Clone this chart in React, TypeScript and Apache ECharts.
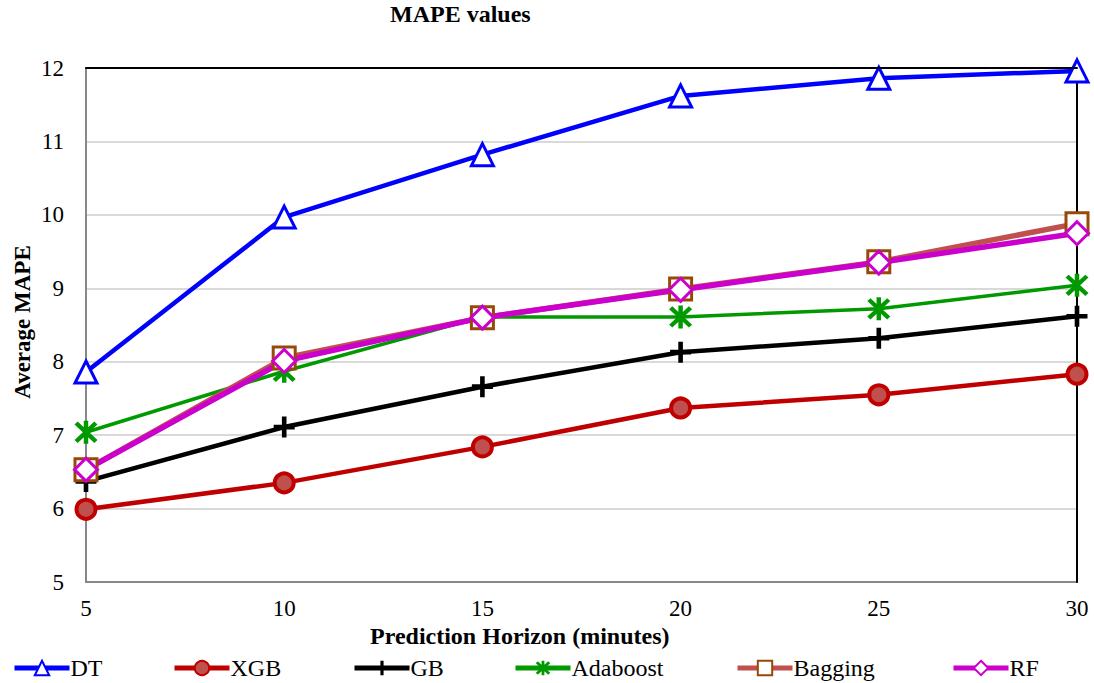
import React, { useEffect, useRef } from "react";
import * as echarts from "echarts";

const horizons = [5, 10, 15, 20, 25, 30];
const dtValues = [7.86, 9.97, 10.82, 11.62, 11.86, 11.96];
const xgbValues = [5.99, 6.35, 6.84, 7.37, 7.55, 7.83];
const gbValues = [6.37, 7.11, 7.66, 8.13, 8.32, 8.62];
const adaboostValues = [7.04, 7.87, 8.61, 8.61, 8.72, 9.04];
const baggingValues = [6.53, 8.05, 8.6, 8.99, 9.36, 9.88];
const rfValues = [6.53, 8.01, 8.6, 8.98, 9.35, 9.75];
const seriesNames = ["DT", "XGB", "GB", "Adaboost", "Bagging", "RF"];
const yTicks = { min: 5, max: 12, interval: 1 };
const xTicks = { min: 5, max: 30, interval: 5 };

const FONT = "'Liberation Serif', 'Times New Roman', serif";
const legendLeft = [12, 172, 352, 513, 735, 951];

const plusPath =
  "path://M3.9,0 H6.1 V3.9 H10 V6.1 H6.1 V10 H3.9 V6.1 H0 V3.9 H3.9 Z";
const starPath =
  "path://M4.1,0 H5.9 V10 H4.1 Z M1.64,0.36 L9.64,8.36 L8.36,9.64 L0.36,1.64 Z M9.64,1.64 L1.64,9.64 L0.36,8.36 L8.36,0.36 Z";

function pts(vals: number[]) {
  return horizons.map((h, i) => [h, vals[i]]);
}

export default function App() {
  const ref = useRef<HTMLDivElement>(null);
  useEffect(() => {
    if (!ref.current) return;
    const chart = echarts.init(ref.current, undefined, { renderer: "svg" });
    const series: any[] = [
      {
        name: "DT",
        type: "line",
        data: pts(dtValues),
        symbol: "triangle",
        symbolSize: 22,
        lineStyle: { color: "#0000FF", width: 4.5 },
        itemStyle: { color: "#FFFFFF", borderColor: "#0000FF", borderWidth: 3 },
      },
      {
        name: "XGB",
        type: "line",
        data: pts(xgbValues),
        symbol: "circle",
        symbolSize: 19,
        lineStyle: { color: "#C00000", width: 4.5 },
        itemStyle: { color: "#C0504D", borderColor: "#C00000", borderWidth: 4 },
      },
      {
        name: "GB",
        type: "line",
        data: pts(gbValues),
        symbol: plusPath,
        symbolSize: 21,
        lineStyle: { color: "#000000", width: 4.5 },
        itemStyle: { color: "#000000", borderWidth: 0 },
      },
      {
        name: "Adaboost",
        type: "line",
        data: pts(adaboostValues),
        symbol: starPath,
        symbolSize: 23,
        lineStyle: { color: "#009900", width: 3.5 },
        itemStyle: { color: "#009900", borderWidth: 0 },
      },
      {
        name: "Bagging",
        type: "line",
        data: pts(baggingValues),
        symbol: "rect",
        symbolSize: 22,
        lineStyle: { color: "#C0504D", width: 5.5 },
        itemStyle: { color: "#FFFFFF", borderColor: "#984807", borderWidth: 3 },
      },
      {
        name: "RF",
        type: "line",
        data: pts(rfValues),
        symbol: "diamond",
        symbolSize: 23,
        lineStyle: { color: "#CC00CC", width: 5.5 },
        itemStyle: { color: "#FFFFFF", borderColor: "#CC00CC", borderWidth: 3 },
      },
    ];
    const legends = seriesNames.map((n, i) => ({
      left: legendLeft[i],
      top: 656,
      padding: 0,
      itemWidth: 55,
      itemHeight: 18,
      itemGap: 0,
      lineStyle: { width: 5 },
      textStyle: { fontSize: 24, fontFamily: FONT, color: "#000", padding: [0, 0, 0, -4] },
      data: [n],
    }));
    chart.setOption({
      animation: false,
      backgroundColor: "#FFFFFF",
      textStyle: { fontFamily: FONT },
      grid: { left: 86, right: 17, top: 68, bottom: 101 },
      xAxis: [
        {
          type: "value",
          min: xTicks.min,
          max: xTicks.max,
          interval: xTicks.interval,
          axisLine: { lineStyle: { color: "#888888", width: 2 } },
          axisTick: { show: false },
          axisLabel: { color: "#000", fontSize: 23, fontFamily: FONT, margin: 15 },
          splitLine: { show: false },
        },
        {
          type: "value",
          position: "top",
          min: xTicks.min,
          max: xTicks.max,
          interval: xTicks.interval,
          axisLine: { show: true, lineStyle: { color: "#000000", width: 2 } },
          axisTick: { show: false },
          axisLabel: { show: false },
          splitLine: { show: false },
          z: 5,
        },
      ],
      yAxis: [
        {
          type: "value",
          min: yTicks.min,
          max: yTicks.max,
          interval: yTicks.interval,
          axisLine: { show: true, lineStyle: { color: "#888888", width: 2 } },
          axisTick: { show: false },
          axisLabel: { color: "#000", fontSize: 23, fontFamily: FONT, margin: 22 },
          splitLine: { lineStyle: { color: "#D9D9D9", width: 2 } },
        },
        {
          type: "value",
          position: "right",
          min: yTicks.min,
          max: yTicks.max,
          interval: yTicks.interval,
          axisLine: { show: true, lineStyle: { color: "#000000", width: 2 } },
          axisTick: { show: false },
          axisLabel: { show: false },
          splitLine: { show: false },
          z: 1,
        },
      ],
      legend: legends,
      graphic: [
        {
          type: "text",
          left: 390,
          top: 2,
          style: { text: "MAPE values", font: `bold 24px ${FONT}`, fill: "#000" },
        },
        {
          type: "text",
          left: 370,
          top: 624,
          style: {
            text: "Prediction Horizon (minutes)",
            font: `bold 24px ${FONT}`,
            fill: "#000",
          },
        },
        {
          type: "text",
          x: 22,
          y: 322,
          rotation: Math.PI / 2,
          style: {
            text: "Average MAPE",
            font: `bold 23px ${FONT}`,
            fill: "#000",
            align: "center",
            verticalAlign: "middle",
          },
        },
      ],
      series,
    });
    return () => chart.dispose();
  }, []);
  return (
    <div
      ref={ref}
      style={{ position: "absolute", left: 0, top: 0, width: 1094, height: 683 }}
    />
  );
}
